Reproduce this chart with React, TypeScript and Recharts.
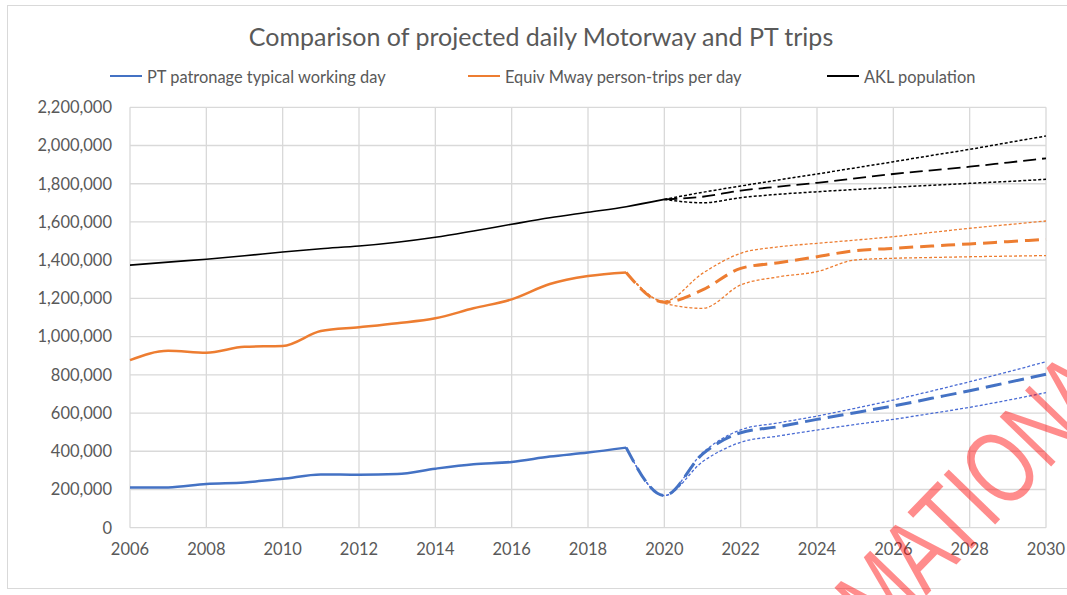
import React from "react";
import { LineChart, Line, XAxis, YAxis, CartesianGrid } from "recharts";

const years = [2006, 2007, 2008, 2009, 2010, 2011, 2012, 2013, 2014, 2015, 2016, 2017, 2018, 2019, 2020, 2021, 2022, 2023, 2024, 2025, 2026, 2027, 2028, 2029, 2030];
const xTicks = [2006, 2008, 2010, 2012, 2014, 2016, 2018, 2020, 2022, 2024, 2026, 2028, 2030];
const yTicks = [0, 200000, 400000, 600000, 800000, 1000000, 1200000, 1400000, 1600000, 1800000, 2000000, 2200000];

const N = null;
// PT patronage typical working day
const ptHist = [210000, 211000, 229000, 237000, 256000, 279000, 277000, 281000, 309000, 332000, 344000, 372000, 393000, 419000, N, N, N, N, N, N, N, N, N, N, N];
const ptMid = [N, N, N, N, N, N, N, N, N, N, N, N, N, 419000, 168000, 385000, 497000, 529000, 567000, 602000, 637000, 677000, 717000, 760000, 803000];
const ptHigh = [N, N, N, N, N, N, N, N, N, N, N, N, N, 419000, 168000, 392000, 512000, 549000, 584000, 625000, 668000, 715000, 764000, 815000, 869000];
const ptLow = [N, N, N, N, N, N, N, N, N, N, N, N, N, 419000, 168000, 345000, 447000, 480000, 511000, 540000, 567000, 598000, 630000, 667000, 707000];
// Equiv Mway person-trips per day
const mwHist = [877000, 926000, 916000, 947000, 951000, 1029000, 1049000, 1070000, 1096000, 1148000, 1195000, 1275000, 1317000, 1336000, N, N, N, N, N, N, N, N, N, N, N];
const mwMid = [N, N, N, N, N, N, N, N, N, N, N, N, N, 1336000, 1180000, 1244000, 1357000, 1387000, 1418000, 1450000, 1462000, 1474000, 1485000, 1497000, 1509000];
const mwHigh = [N, N, N, N, N, N, N, N, N, N, N, N, N, 1336000, 1185000, 1331000, 1436000, 1470000, 1488000, 1505000, 1523000, 1545000, 1567000, 1586000, 1605000];
const mwLow = [N, N, N, N, N, N, N, N, N, N, N, N, N, 1336000, 1175000, 1148000, 1270000, 1313000, 1340000, 1401000, 1410000, 1414000, 1418000, 1421000, 1424000];
// AKL population
const popHist = [1374000, 1390000, 1405000, 1423000, 1443000, 1460000, 1474000, 1494000, 1520000, 1553000, 1588000, 1622000, 1651000, 1680000, 1718000, N, N, N, N, N, N, N, N, N, N];
const popMid = [N, N, N, N, N, N, N, N, N, N, N, N, N, N, 1718000, 1732000, 1764000, 1785000, 1805000, 1828000, 1851000, 1870000, 1889000, 1911000, 1933000];
const popHigh = [N, N, N, N, N, N, N, N, N, N, N, N, N, N, 1718000, 1755000, 1788000, 1820000, 1851000, 1883000, 1915000, 1948000, 1980000, 2015000, 2050000];
const popLow = [N, N, N, N, N, N, N, N, N, N, N, N, N, N, 1718000, 1700000, 1727000, 1745000, 1758000, 1770000, 1781000, 1792000, 1802000, 1812000, 1823000];

const data = years.map((year, i) => ({
  year,
  ptHist: ptHist[i], ptMid: ptMid[i], ptHigh: ptHigh[i], ptLow: ptLow[i],
  mwHist: mwHist[i], mwMid: mwMid[i], mwHigh: mwHigh[i], mwLow: mwLow[i],
  popHist: popHist[i], popMid: popMid[i], popHigh: popHigh[i], popLow: popLow[i],
}));

const BLUE = "#4472C4";
const BLUE_DOT = "#4a6cd4";
const ORANGE = "#ED7D31";
const BLACK = "#000000";
const FONT = "Lato, 'Open Sans', sans-serif";
const TXT = "#595959";

const legendItems = [
  { label: "PT patronage typical working day", color: BLUE, x: 110 },
  { label: "Equiv Mway person-trips per day", color: ORANGE, x: 468 },
  { label: "AKL population", color: BLACK, x: 827 },
];

export default function App() {
  return (
    <div style={{ position: "relative", width: 1067, height: 595, overflow: "hidden", background: "#fff" }}>
      <style>{"body{margin:0}"}</style>
      <div style={{ position: "absolute", left: 7, top: 5, width: 1070, height: 584, border: "1px solid #d9d9d9", boxSizing: "border-box" }} />
      <div style={{ position: "absolute", left: 0, width: 1082, top: 21, textAlign: "center", fontFamily: FONT, fontSize: 25, color: TXT, whiteSpace: "nowrap" }}>
        Comparison of projected daily Motorway and PT trips
      </div>
      {legendItems.map((it) => (
        <div key={it.label} style={{ position: "absolute", left: it.x, top: 66.5, display: "flex", alignItems: "center", fontFamily: FONT, fontSize: 16.4, color: TXT, whiteSpace: "nowrap" }}>
          <div style={{ width: 32, height: 2.5, background: it.color, marginRight: 5 }} />
          <span>{it.label}</span>
        </div>
      ))}
      <div style={{ position: "absolute", left: 0, top: 0 }}>
        <LineChart width={1067} height={595} data={data} margin={{ top: 107.3, right: 21, bottom: 37.3, left: 0 }}>
          <CartesianGrid stroke="#d9d9d9" strokeWidth={1.3} />
          <XAxis
            dataKey="year"
            type="number"
            domain={[2006, 2030]}
            ticks={xTicks}
            interval={0}
            tickLine={false}
            axisLine={false}
            height={30}
            tickMargin={10}
            tick={{ fill: TXT, fontSize: 16.5, fontFamily: FONT }}
          />
          <YAxis
            type="number"
            domain={[0, 2200000]}
            ticks={yTicks}
            interval={0}
            width={130}
            tickLine={false}
            axisLine={false}
            tickMargin={12}
            tickFormatter={(v: number) => v.toLocaleString("en-US")}
            tick={{ fill: TXT, fontSize: 16.5, fontFamily: FONT }}
          />
          <Line dataKey="popHigh" type="monotone" stroke={BLACK} strokeWidth={1.5} strokeDasharray="3 2" dot={false} isAnimationActive={false} />
          <Line dataKey="popLow" type="monotone" stroke={BLACK} strokeWidth={1.5} strokeDasharray="3 2" dot={false} isAnimationActive={false} />
          <Line dataKey="popMid" type="monotone" stroke={BLACK} strokeWidth={1.8} strokeDasharray="13 6" dot={false} isAnimationActive={false} />
          <Line dataKey="popHist" type="monotone" stroke={BLACK} strokeWidth={1.6} dot={false} isAnimationActive={false} />
          <Line dataKey="mwHigh" type="monotone" stroke={ORANGE} strokeWidth={1.3} strokeDasharray="3 2" dot={false} isAnimationActive={false} />
          <Line dataKey="mwLow" type="monotone" stroke={ORANGE} strokeWidth={1.3} strokeDasharray="3 2" dot={false} isAnimationActive={false} />
          <Line dataKey="mwMid" type="monotone" stroke={ORANGE} strokeWidth={3} strokeDasharray="14 7" dot={false} isAnimationActive={false} />
          <Line dataKey="mwHist" type="monotone" stroke={ORANGE} strokeWidth={2.5} dot={false} isAnimationActive={false} />
          <Line dataKey="ptHigh" type="monotone" stroke={BLUE_DOT} strokeWidth={1.3} strokeDasharray="3 2" dot={false} isAnimationActive={false} />
          <Line dataKey="ptLow" type="monotone" stroke={BLUE_DOT} strokeWidth={1.3} strokeDasharray="3 2" dot={false} isAnimationActive={false} />
          <Line dataKey="ptMid" type="monotone" stroke={BLUE} strokeWidth={3} strokeDasharray="16 7" dot={false} isAnimationActive={false} />
          <Line dataKey="ptHist" type="monotone" stroke={BLUE} strokeWidth={2.5} dot={false} isAnimationActive={false} />
        </LineChart>
      </div>
      <svg width={1067} height={595} style={{ position: "absolute", left: 0, top: 0, pointerEvents: "none" }}>
        <g transform="translate(926 596) rotate(-46) scale(0.74 1)" fontFamily="'Liberation Sans', Arial, sans-serif" fontSize={104} fill="#ff0000" fillOpacity={0.45}>
          <text x={0} y={0} textAnchor="end">INFORM</text>
          <text x={0} y={0} wordSpacing={-28}>ATION ACT</text>
        </g>
      </svg>
    </div>
  );
}
